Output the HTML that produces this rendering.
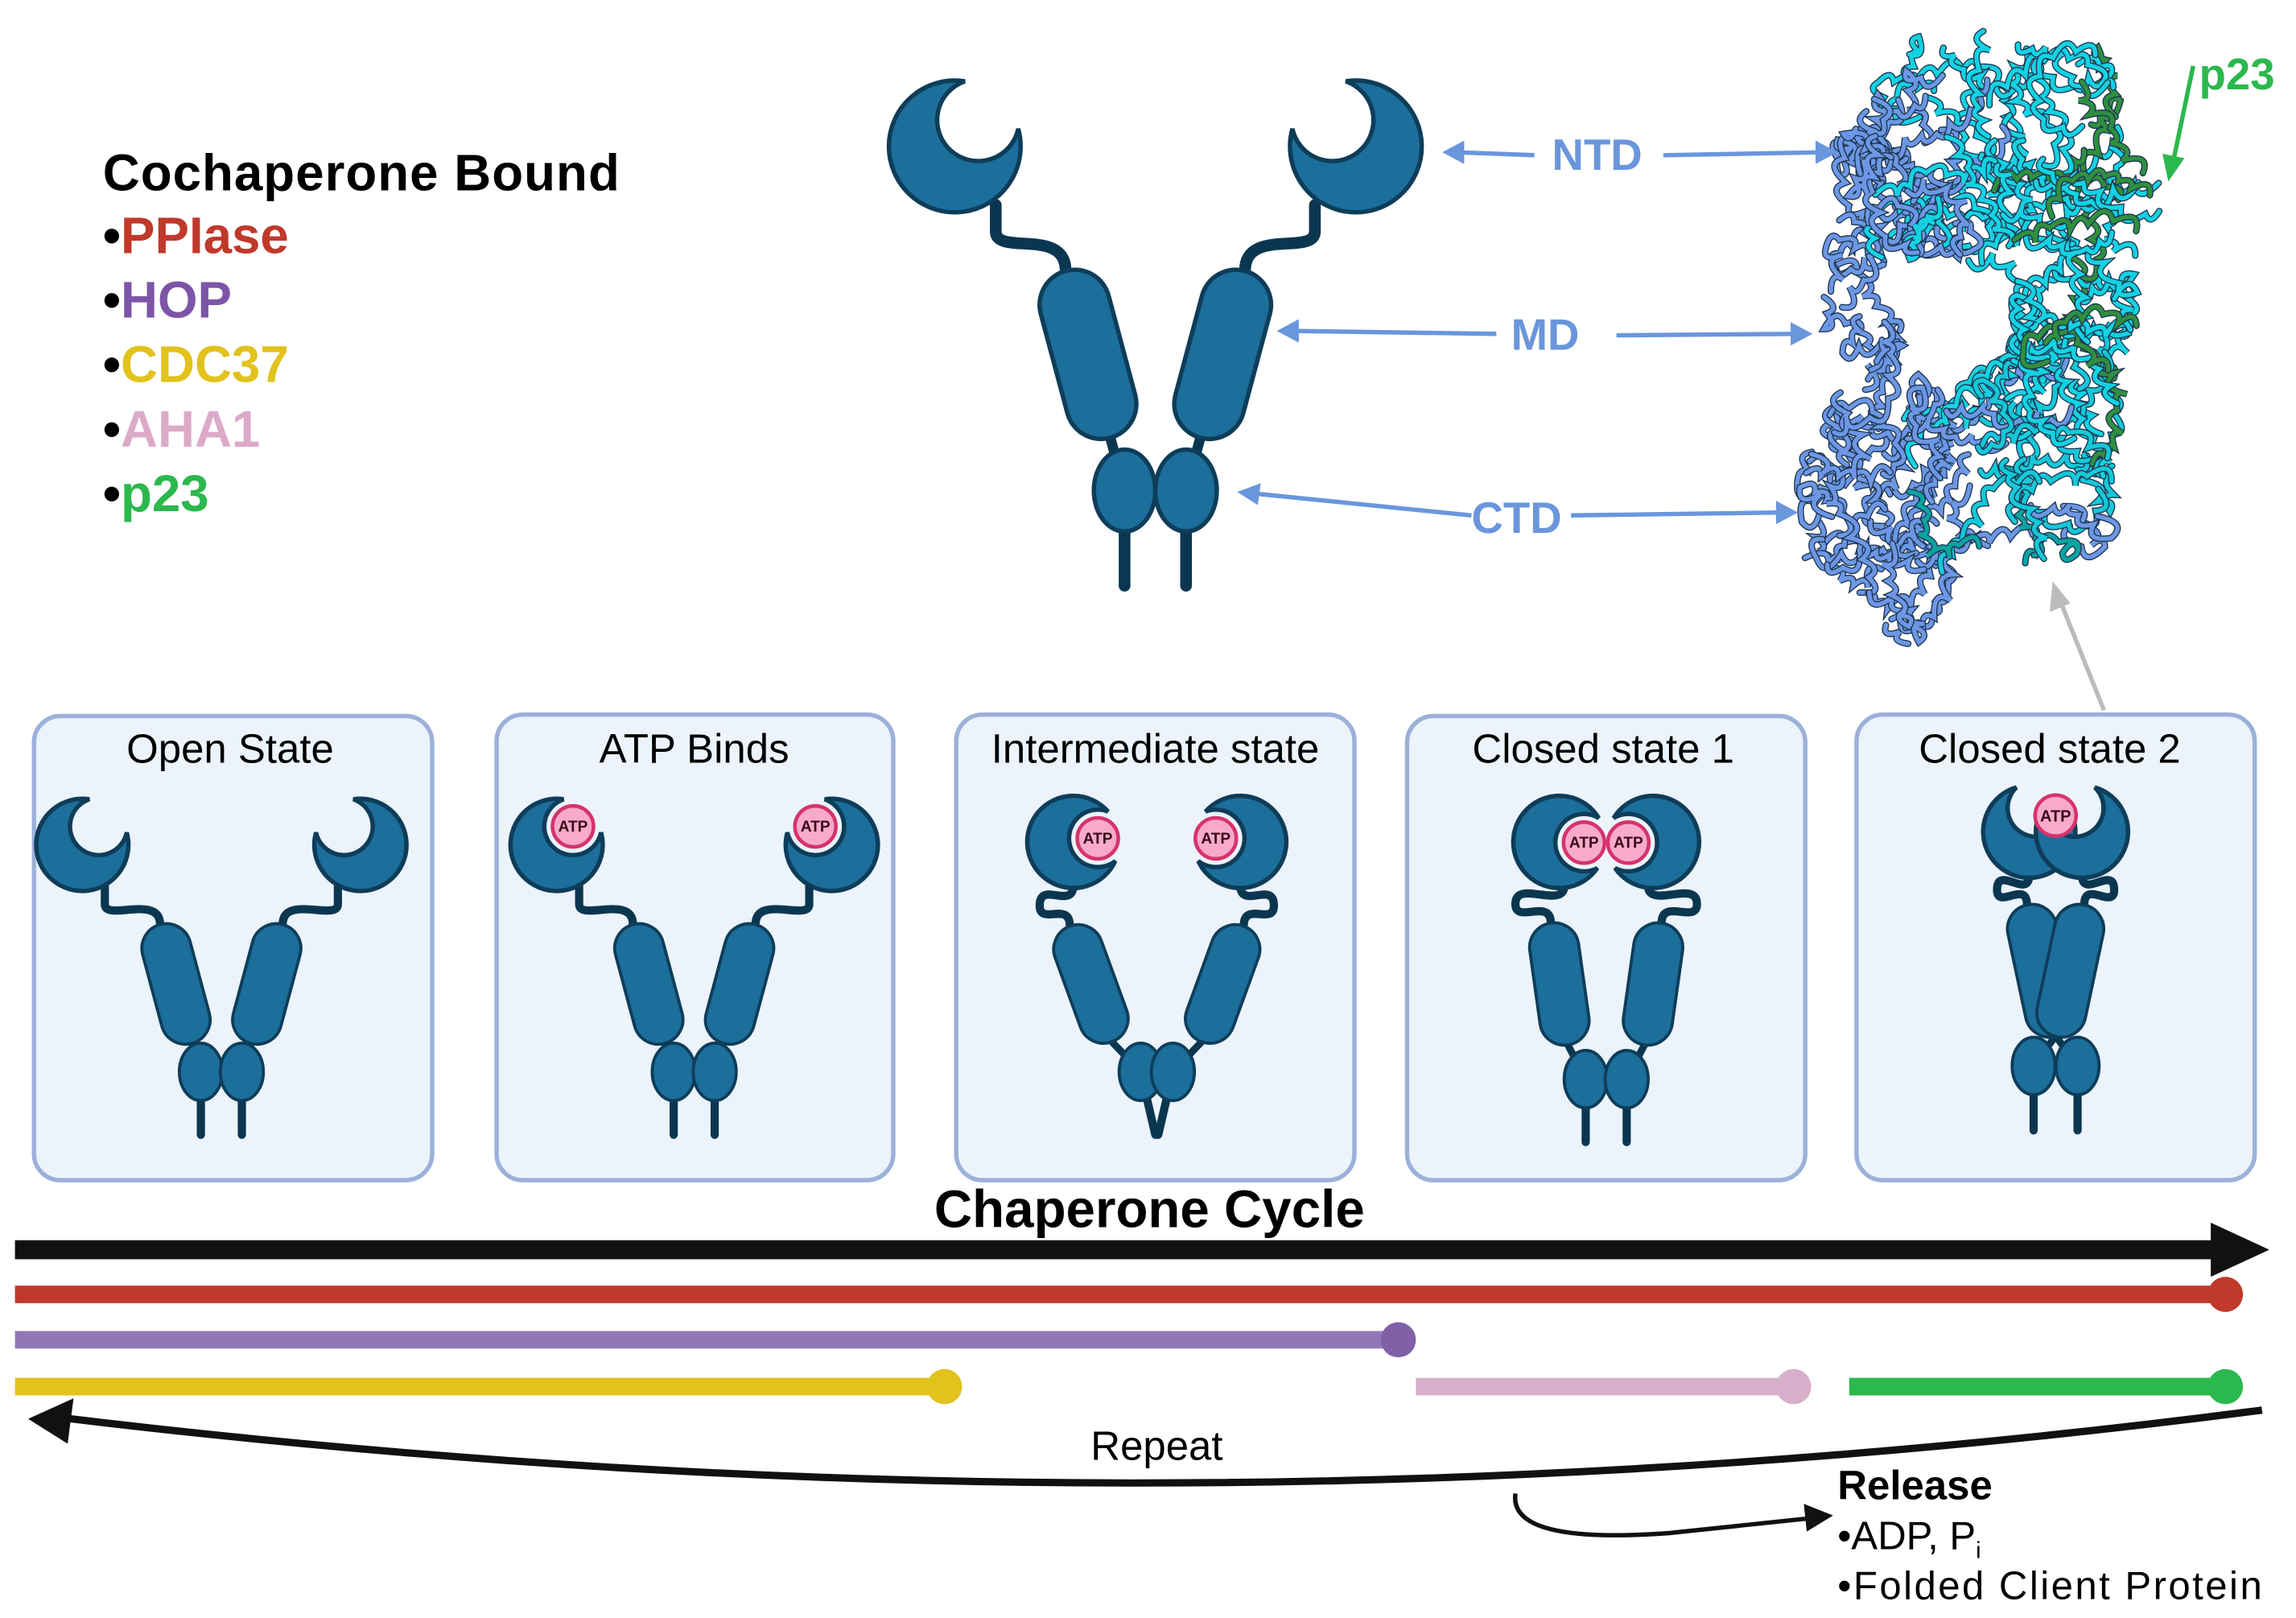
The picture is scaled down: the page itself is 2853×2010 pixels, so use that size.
<!DOCTYPE html>
<html><head><meta charset="utf-8">
<style>
html,body{margin:0;padding:0;background:#fff;}
svg{display:block;}
text{font-family:"Liberation Sans",Arial,sans-serif;}
</style></head>
<body>
<svg id="s" width="2853" height="2010" viewBox="0 0 1568 1105" xmlns="http://www.w3.org/2000/svg">
<rect width="1568" height="1105" fill="#fff"/>
<g id="prot"></g>
<text x="70" y="130" font-size="35" font-weight="bold" fill="#000" textLength="353">Cochaperone Bound</text>
<g font-size="35" font-weight="bold">
<text x="70" y="173"><tspan fill="#000">•</tspan><tspan fill="#c0392b">PPIase</tspan></text>
<text x="70" y="217"><tspan fill="#000">•</tspan><tspan fill="#7d55a8">HOP</tspan></text>
<text x="70" y="261"><tspan fill="#000">•</tspan><tspan fill="#e2c21c">CDC37</tspan></text>
<text x="70" y="305"><tspan fill="#000">•</tspan><tspan fill="#dcaac9">AHA1</tspan></text>
<text x="70" y="349"><tspan fill="#000">•</tspan><tspan fill="#2bb84d">p23</tspan></text>
</g>
<g fill="#ecf3fb" stroke="#9cb1d9" stroke-width="3">
<rect x="23" y="489" width="272" height="317" rx="18"/>
<rect x="339" y="488" width="271" height="318" rx="18"/>
<rect x="653" y="488" width="272" height="318" rx="18"/>
<rect x="961" y="489" width="272" height="317" rx="18"/>
<rect x="1268" y="488" width="272" height="318" rx="18"/>
</g>
<g font-size="28" text-anchor="middle" fill="#000">
<text x="157" y="521">Open State</text>
<text x="474" y="521">ATP Binds</text>
<text x="789" y="521">Intermediate state</text>
<text x="1095" y="521">Closed state 1</text>
<text x="1400" y="521">Closed state 2</text>
</g>
<g id="figs"></g>
<g stroke="#6a96dc" stroke-width="3" fill="none">
<path d="M995,104 L1048,106"/><path d="M1136,106 L1245,104"/>
<path d="M882,226 L1022,228"/><path d="M1104,229 L1228,228"/>
<path d="M856,337 L1005,352"/><path d="M1073,352 L1218,350"/>
</g>
<g fill="#6a96dc">
<polygon points="985,104 1000,96 1000,112"/><polygon points="1255,104 1240,96 1240,112"/>
<polygon points="872,226 887,218 887,234"/><polygon points="1238,228 1223,220 1223,236"/>
<polygon points="845,336 861,330 859,345"/><polygon points="1228,350 1213,342 1213,358"/>
</g>
<g font-size="30" font-weight="bold" fill="#6a96dc">
<text x="1060" y="116">NTD</text>
<text x="1032" y="239">MD</text>
<text x="1005" y="364">CTD</text>
</g>
<text x="1502" y="61" font-size="30" font-weight="bold" fill="#2bb84d">p23</text>
<path d="M1498,45 L1484,112" stroke="#2bb84d" stroke-width="3"/>
<polygon points="1481,124 1477,105 1492,108" fill="#2bb84d"/>
<path d="M1437,485 L1407,410" stroke="#bbb" stroke-width="3"/>
<polygon points="1402,397 1400,418 1414,412" fill="#bbb"/>
<text x="785" y="838" font-size="36" font-weight="bold" text-anchor="middle" fill="#000">Chaperone Cycle</text>
<rect x="10" y="847" width="1505" height="13" fill="#111"/>
<polygon points="1510,835 1550,853.5 1510,872" fill="#111"/>
<g stroke-width="12" stroke-linecap="butt">
<line x1="10" y1="884" x2="1520" y2="884" stroke="#c0392b"/>
<line x1="10" y1="915" x2="955" y2="915" stroke="#8f78b5"/>
<line x1="10" y1="947" x2="645" y2="947" stroke="#e2c21c"/>
<line x1="967" y1="947" x2="1225" y2="947" stroke="#d8afcb"/>
<line x1="1263" y1="947" x2="1520" y2="947" stroke="#2bb84d"/>
</g>
<circle cx="1520" cy="884" r="12" fill="#c0392b"/>
<circle cx="955" cy="915" r="12" fill="#8061a8"/>
<circle cx="645" cy="947" r="12" fill="#e2c21c"/>
<circle cx="1225" cy="947" r="12" fill="#d8afcb"/>
<circle cx="1520" cy="947" r="12" fill="#2bb84d"/>
<path d="M1545,963 Q800,1060 40,968" stroke="#111" stroke-width="5" fill="none"/>
<polygon points="19,969 50,955 46,986" fill="#111"/>
<text x="790" y="997" font-size="28" text-anchor="middle" fill="#000">Repeat</text>
<path d="M1035,1020 Q1030,1055 1140,1047 L1235,1037" stroke="#111" stroke-width="3" fill="none"/>
<polygon points="1252,1035 1232,1027 1234,1046" fill="#111"/>
<text x="1255" y="1024" font-size="28" font-weight="bold" fill="#000">Release</text>
<text x="1255" y="1058" font-size="27" fill="#000">•ADP, P<tspan font-size="16" dy="6">i</tspan></text>
<text x="1255" y="1092" font-size="27" fill="#000" textLength="290">•Folded Client Protein</text>
</svg>
<script>
var NS="http://www.w3.org/2000/svg";
function el(p,tag,a){var e=document.createElementNS(NS,tag);for(var k in a)e.setAttribute(k,a[k]);p.appendChild(e);return e;}
var figs=document.getElementById("figs");
var FILL="#1c6e9b",STR="#0e3d59",DK="#0b3650";
var R=45,BC=[16,-18],Rb=28;
var CRES,P1,P2;
(function(){var cx=BC[0],cy=BC[1],d=Math.hypot(cx,cy);var a=(R*R-Rb*Rb+d*d)/(2*d);var h=Math.sqrt(R*R-a*a);
var mx=a*cx/d,my=a*cy/d;var pA=[mx+h*(-cy)/d,my+h*cx/d],pB=[mx-h*(-cy)/d,my-h*cx/d];
var angA=Math.atan2(pA[1],pA[0]),angB=Math.atan2(pB[1],pB[0]);var df=angB-angA;while(df<0)df+=2*Math.PI;
if(df<Math.PI){P1=pA;P2=pB;}else{P1=pB;P2=pA;}
CRES="M"+P1[0]+","+P1[1]+" A"+R+","+R+" 0 1 0 "+P2[0]+","+P2[1]+" A"+Rb+","+Rb+" 0 1 1 "+P1[0]+","+P1[1]+" Z";})();
function mono(o,s){
 var k=o.k;
 var hx=o.cx+s*o.hdx, hy=o.hy;
 var g=el(figs,"g",{});
 var ang=-s*o.ma, a=ang*Math.PI/180, L=o.ml;
 var mx=o.cx+s*o.mdx, my=o.mdy;
 var tx=mx+Math.sin(a)*L/2, ty=my-Math.cos(a)*L/2;
 var bx=mx-Math.sin(a)*L/2, by=my+Math.cos(a)*L/2;
 var lx=hx-s*(o.lo!==undefined?o.lo:22)*k, ly=hy+(o.ly||40)*k;
 var d;
 if(o.wx!==undefined){var wx=o.cx+s*o.wx, wy=(ly+ty)/2;
  d="M"+lx+","+ly+" C"+lx+","+(ly+25*k)+" "+wx+","+(wy-25*k)+" "+wx+","+wy+" C"+wx+","+(wy+20*k)+" "+tx+","+(ty-25*k)+" "+tx+","+ty;}
 else d="M"+lx+","+ly+" L"+lx+","+(ly+18*k)+" C"+lx+","+(ly+35*k)+" "+tx+","+(ty-30*k)+" "+tx+","+ty;
 el(g,"path",{d:d,stroke:DK,"stroke-width":8*k,fill:"none","stroke-linecap":"round"});
 var cX=o.cx+s*o.cdx, cY=o.cy;
 el(g,"line",{x1:bx,y1:by,x2:cX,y2:cY,stroke:DK,"stroke-width":7*k});
 var tX=o.cx+s*(o.tdx!==undefined?o.tdx:o.cdx);
 el(g,"line",{x1:cX,y1:cY,x2:tX,y2:o.ty,stroke:DK,"stroke-width":8*k,"stroke-linecap":"round"});
 el(g,"rect",{x:mx-24*k,y:my-L/2,width:48*k,height:L,rx:24*k,fill:FILL,stroke:STR,"stroke-width":3*k,transform:"rotate("+ang+" "+mx+" "+my+")"});
 el(g,"ellipse",{cx:cX,cy:cY,rx:21*k,ry:28*k,fill:FILL,stroke:STR,"stroke-width":3*k});
 var rot=(o.hr||0);
 var tr="translate("+hx+","+hy+") scale("+(-s*k)+","+k+") rotate("+rot+")";
 el(g,"path",{d:CRES,fill:FILL,stroke:STR,"stroke-width":3/k,transform:tr});
 if(o.atp){
  var rr=rot*Math.PI/180;var bx2=BC[0]*Math.cos(rr)-BC[1]*Math.sin(rr), by2=BC[0]*Math.sin(rr)+BC[1]*Math.cos(rr);
  var ax=hx+(-s)*bx2*k, ay=hy+by2*k;
  el(g,"circle",{cx:ax,cy:ay,r:20*k,fill:"#f7abc9",stroke:"#d6336c","stroke-width":2.5});
  var t=el(g,"text",{x:ax,y:ay+5*k,"font-size":15*k,"text-anchor":"middle",fill:"#3a0a1a","font-weight":"bold"});t.textContent="ATP";}
}
function dimer(o){mono(o,-1);mono(o,1);}
dimer({cx:789,k:1,hdx:137,hy:100,hr:0,mdx:46,mdy:242,ma:-15,ml:118,cdx:21,cy:335,ty:400,lo:28,ly:40});
dimer({cx:151,k:0.7,hdx:95,hy:577,hr:0,mdx:31,mdy:672,ma:-15,ml:84,cdx:14,cy:732,ty:775});
dimer({cx:474,k:0.7,hdx:94,hy:577,hr:0,mdx:31,mdy:672,ma:-15,ml:84,cdx:14,cy:732,ty:775,atp:1});
dimer({cx:790,k:0.7,hdx:57,hy:575,hr:40,mdx:45,mdy:672,ma:-20,ml:84,cdx:11,cy:732,tdx:1,ty:775,wx:80,lo:0,ly:42,atp:1});
dimer({cx:1097,k:0.7,hdx:32,hy:575,hr:50,mdx:32,mdy:672,ma:-8,ml:84,cdx:14,cy:737,ty:780,wx:62,lo:5,ly:42,atp:1});
dimer({cx:1404,k:0.7,hdx:18,hy:568,hr:-25,mdx:10,mdy:663,ma:-12,ml:92,cdx:15,cy:728,ty:772,wx:40,lo:0,ly:42});
(function(){var ax=1404,ay=557;el(figs,"circle",{cx:ax,cy:ay,r:14,fill:"#f7abc9",stroke:"#d6336c","stroke-width":2.5});
var t=el(figs,"text",{x:ax,y:ay+4,"font-size":11,"text-anchor":"middle",fill:"#3a0a1a","font-weight":"bold"});t.textContent="ATP";})();
var P=document.getElementById("prot");
var seed=11;function r(){seed=(seed*16807)%2147483647;return seed/2147483647;}
function inside(x,y){
 if(y<18||y>440)return false;
 var l,rr;
 if(y<90){l=1300-(y-18)*0.5;rr=1450;}else if(y<150){l=1255;rr=1475;}else if(y<300){l=1245;rr=1460;}else if(y<380){l=1225;rr=1445;}else{l=1230+(y-380)*1.2;rr=1400-(y-380)*1.5;}
 if(x>1300&&x<1370&&y>180&&y<250)return false;
 return x>l&&x<rr;
}
function col(x,y){
 if(x<1320 && y>75) return "#6d97e4";
 if(y<260) return (x>1420&&r()<0.5?"#2f8f3f":"#14d2e2");
 if(y<330) return (x<1345?"#6d97e4":"#14c8d8");
 return (r()<0.5?"#0aa3a0":"#6d97e4");
}
var paths=[];
for(var i=0;i<150;i++){
 var x,y;do{x=1220+r()*270;y=18+r()*422;}while(!inside(x,y));
 var c=col(x,y);var d="M"+x.toFixed(1)+","+y.toFixed(1);var ang=r()*6.28;
 for(var j=0;j<7;j++){ang+=(r()-0.5)*2.2;var st=9+r()*9;
  var nx=x+Math.cos(ang)*st,ny=y+Math.sin(ang)*st;if(!inside(nx,ny)){ang+=3.14;continue;}
  var qx=x+Math.cos(ang+1.4)*st*0.9,qy=y+Math.sin(ang+1.4)*st*0.9;
  d+=" Q"+qx.toFixed(1)+","+qy.toFixed(1)+" "+nx.toFixed(1)+","+ny.toFixed(1);x=nx;y=ny;}
 paths.push([d,c]);
}
paths.forEach(function(p){el(P,"path",{d:p[0],stroke:"#1d3550","stroke-width":4.5,fill:"none","stroke-linecap":"round"});
 el(P,"path",{d:p[0],stroke:p[1],"stroke-width":3,fill:"none","stroke-linecap":"round"});});
</script>
</body></html>
